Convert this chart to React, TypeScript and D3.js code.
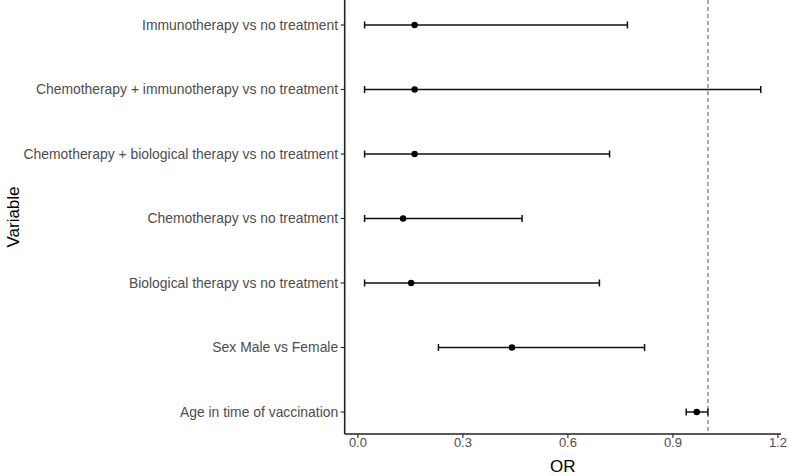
import React from "react";
import * as d3 from "d3";

const categories = [
  "Immunotherapy vs no treatment",
  "Chemotherapy + immunotherapy vs no treatment",
  "Chemotherapy + biological therapy vs no treatment",
  "Chemotherapy vs no treatment",
  "Biological therapy vs no treatment",
  "Sex Male vs Female",
  "Age in time of vaccination",
];
const orValues = [0.162, 0.162, 0.162, 0.129, 0.152, 0.44, 0.968];
const lowerCI = [0.019, 0.019, 0.019, 0.019, 0.019, 0.23, 0.938];
const upperCI = [0.77, 1.151, 0.719, 0.469, 0.69, 0.819, 1.0];
const xTicks = [0, 0.3, 0.6, 0.9, 1.2];
const refLine = 1;

export default function App() {
  const W = 789, H = 476;
  const left = 344.7, right = 781, top = 0, bottom = 434;
  const x = d3.scaleLinear().domain([-0.0378, 1.2088]).range([left, right]);
  const y = d3.scalePoint<string>().domain(categories).range([25, 412]);
  const font = "Liberation Sans, Arial, sans-serif";
  const axisCol = "#222222";
  const textCol = "#4d4d4d";
  return (
    <svg width={W} height={H} style={{ position: "absolute", left: 0, top: 0, background: "#fff" }}>
      <rect x={0} y={0} width={W} height={H} fill="#fff" />
      <line x1={x(refLine)} x2={x(refLine)} y1={top} y2={bottom} stroke="#7f7f7f" strokeWidth={1.3} strokeDasharray="4,3" />
      {categories.map((c, i) => {
        const yy = y(c)!;
        return (
          <g key={c}>
            <line x1={x(lowerCI[i])} x2={x(upperCI[i])} y1={yy} y2={yy} stroke="#111" strokeWidth={1.5} />
            <line x1={x(lowerCI[i])} x2={x(lowerCI[i])} y1={yy - 3.5} y2={yy + 3.5} stroke="#111" strokeWidth={1.5} />
            <line x1={x(upperCI[i])} x2={x(upperCI[i])} y1={yy - 3.5} y2={yy + 3.5} stroke="#111" strokeWidth={1.5} />
            <circle cx={x(orValues[i])} cy={yy} r={3.2} fill="#000" />
          </g>
        );
      })}
      <line x1={left} x2={left} y1={top} y2={bottom} stroke={axisCol} strokeWidth={1.6} />
      <line x1={left} x2={right} y1={bottom} y2={bottom} stroke={axisCol} strokeWidth={1.6} />
      {categories.map((c) => (
        <g key={"t" + c}>
          <line x1={left - 4} x2={left} y1={y(c)!} y2={y(c)!} stroke={axisCol} strokeWidth={1.1} />
          <text x={left - 6.5} y={y(c)!} dy="0.35em" textAnchor="end" fontFamily={font} fontSize={13.9} fill={textCol}>
            {c}
          </text>
        </g>
      ))}
      {xTicks.map((t) => (
        <g key={"x" + t}>
          <line x1={x(t)} x2={x(t)} y1={bottom} y2={bottom + 4} stroke={axisCol} strokeWidth={1.1} />
          <text x={x(t)} y={bottom + 4} dy="0.71em" textAnchor="middle" fontFamily={font} fontSize={13} fill={textCol}>
            {t.toFixed(1)}
          </text>
        </g>
      ))}
      <text x={(left + right) / 2} y={472} textAnchor="middle" fontFamily={font} fontSize={17} fill="#000">
        OR
      </text>
      <text transform={`translate(18.5,${(top + bottom) / 2}) rotate(-90)`} textAnchor="middle" fontFamily={font} fontSize={17} fill="#000">
        Variable
      </text>
    </svg>
  );
}
